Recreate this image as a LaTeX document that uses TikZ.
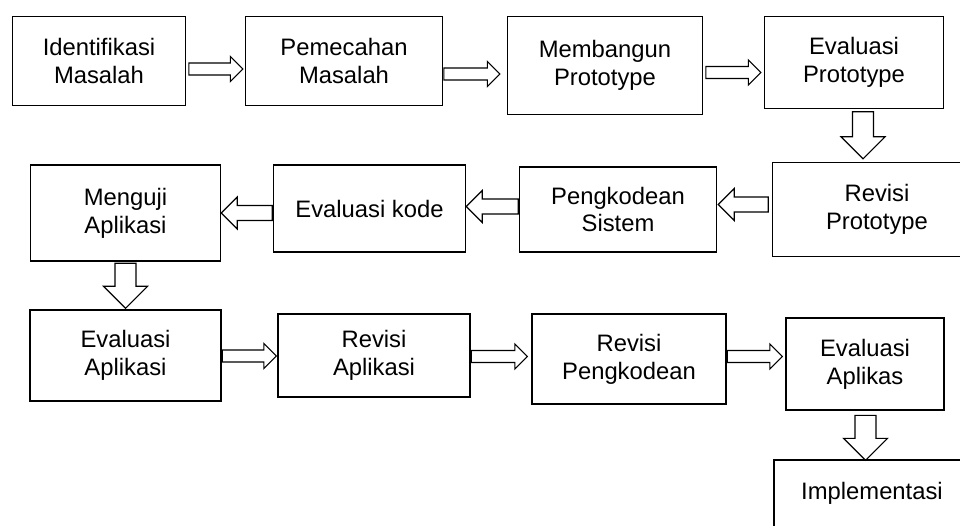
\documentclass[tikz,border=0pt]{standalone}
\usepackage{fontspec}
\setmainfont{Liberation Sans}
\usetikzlibrary{positioning,shapes.arrows,calc}

\begin{document}
\begin{tikzpicture}[x=1pt,y=1pt,on grid,
  box/.style 2 args={draw,line width=1.5pt,align=center,inner sep=0pt,
    minimum width=#1,minimum height=#2,font=\fontsize{23.8pt}{27.7pt}\selectfont},
  arr/.style={single arrow,draw,line width=1.2pt,inner sep=0pt,minimum width=0pt,anchor=tail},
  rarr/.style={arr,inner ysep=5.4pt,single arrow head extend=6.5pt,minimum height=#1},
  larr/.style={arr,inner ysep=6.9pt,single arrow head extend=8.5pt,rotate=180,minimum height=#1},
  darr/.style={arr,inner ysep=9.9pt,single arrow head extend=11.5pt,rotate=-90,minimum height=#1}]
\useasboundingbox (0,0) rectangle (960,-526);
\clip (0,0) rectangle (960,-526);
\node[box={173pt}{89pt}] (iden) at (99,-61) {Identifikasi\\Masalah};
\node[box={197pt}{89pt}] (peme) [right=245pt of iden] {Pemecahan\\Masalah};
\node[box={195pt}{98pt}] (memb) [right=261pt of peme,yshift=-4.5pt] {Membangun\\Prototype};
\node[box={179pt}{92pt}] (evpr) [right=249pt of memb,yshift=3pt] {Evaluasi\\Prototype};
\node[box={209pt}{94pt}] (revp) [below=147pt of evpr,xshift=23pt] {Revisi\\Prototype};
\node[box={197pt}{85pt}] (peng) [left=259pt of revp] {Pengkodean\\Sistem};
\node[box={192pt}{87pt}] (evko) [left=248.5pt of peng,yshift=1pt] {Evaluasi kode};
\node[box={190pt}{96pt}] (meng) [left=244pt of evko,yshift=-4.5pt] {Menguji\\Aplikasi};
\node[box={191pt}{91pt}] (evap) [below=142.5pt of meng] {Evaluasi\\Aplikasi};
\node[box={192pt}{83pt}] (reap) [right=248.5pt of evap] {Revisi\\Aplikasi};
\node[box={194pt}{90pt}] (repe) [right=255pt of reap,yshift=-3.5pt] {Revisi\\Pengkodean};
\node[box={158pt}{92pt}] (evas) [right=236pt of repe,yshift=-5pt] {Evaluasi\\Aplikas};
\node[box={196pt}{89pt}] (impl) [below=140.5pt of evas,xshift=7pt] {Implementasi\\\mbox{}};
\node[rarr=54pt] (a1) at ($(iden.east)+(2,-8)$) {};
\node[rarr=56pt] (a2) at ($(peme.east)+(0,-13)$) {};
\node[rarr=55pt] (a3) at ($(memb.east)+(2,-7)$) {};
\node[darr=47pt] (a4) at ($(evpr.south)+(9,-2)$) {};
\node[larr=50pt] (a5) at ($(revp.west)+(-3,5)$) {};
\node[larr=52pt] (a6) at ($(peng.west)+(0,3)$) {};
\node[larr=51pt] (a7) at ($(evko.west)+(0,-4.5)$) {};
\node[darr=45pt] (a8) at ($(meng.south)+(0,-1)$) {};
\node[rarr=54pt] (a9) at ($(evap.east)+(0,-0.5)$) {};
\node[rarr=56pt] (a10) at ($(reap.east)+(0,-1)$) {};
\node[rarr=55pt] (a11) at ($(repe.east)+(0,2.5)$) {};
\node[darr=45pt] (a12) at ($(evas.south)+(0.5,-4)$) {};
\end{tikzpicture}
\end{document}
